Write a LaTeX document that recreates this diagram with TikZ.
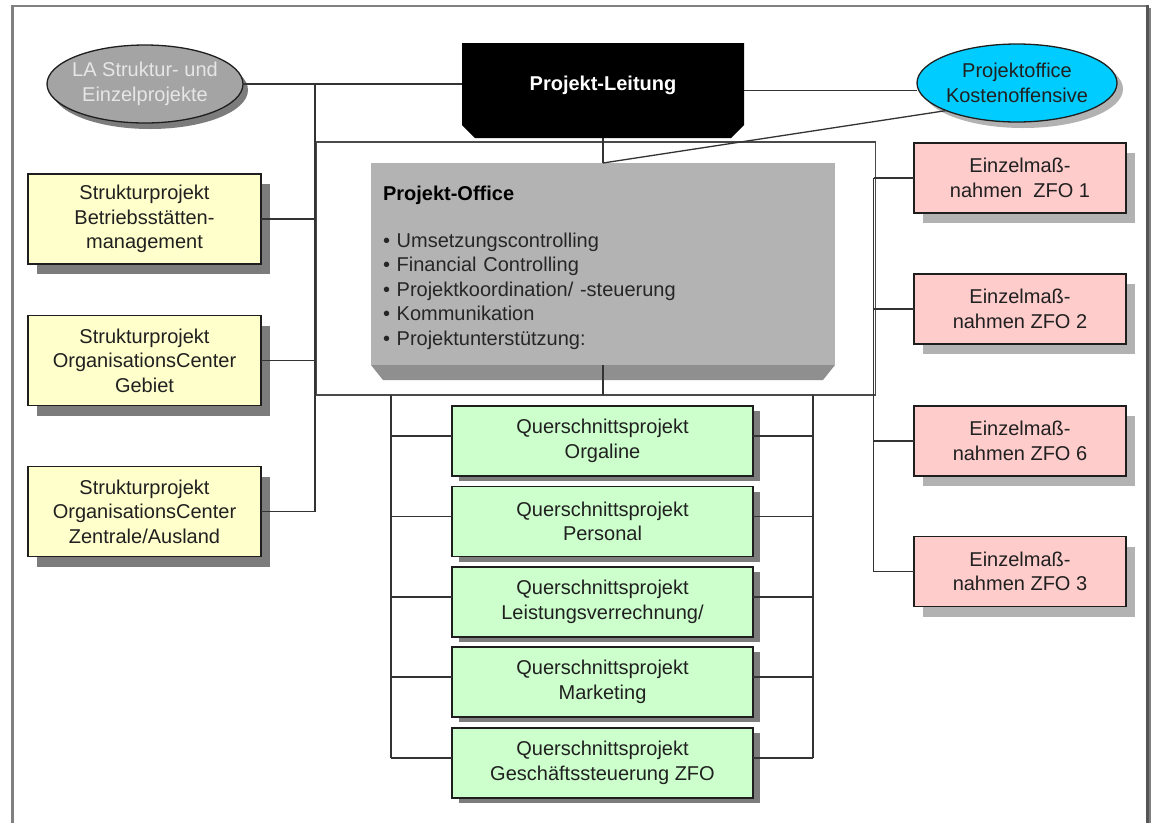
\documentclass[tikz,border=0pt]{standalone}
\usepackage{fontspec}
\setmainfont{Liberation Sans}
\usetikzlibrary{shapes.geometric,shadows,calc}

\definecolor{structfill}{HTML}{FFFFCC}
\definecolor{crossfill}{HTML}{CCFFCC}
\definecolor{singlefill}{HTML}{FFCCCC}
\definecolor{officecyan}{HTML}{00CCFF}
\definecolor{lagray}{HTML}{A4A4A4}
\definecolor{latext}{HTML}{E6E6E6}
\definecolor{pofill}{HTML}{B3B3B3}
\definecolor{pobevel}{HTML}{8F8F8F}
\definecolor{potext}{HTML}{262626}
\definecolor{boxline}{HTML}{1E1E1E}
\definecolor{boxtext}{HTML}{202020}
\definecolor{connline}{HTML}{333333}
\definecolor{rectgray}{HTML}{4A4A4A}
\definecolor{shdark}{HTML}{7C7C7C}
\definecolor{shlight}{HTML}{B2B2B2}
\definecolor{framegray}{HTML}{808080}
\definecolor{framedark}{HTML}{555555}

\begin{document}
\begin{tikzpicture}[x=1pt,y=-1pt,
  every node/.style={font=\fontsize{20}{24.5}\selectfont, inner sep=0pt, outer sep=0pt},
  box/.style={draw=boxline, line width=1.3pt, align=center, text=boxtext},
  structbox/.style={box, fill=structfill, minimum width=233pt, minimum height=90pt,
    drop shadow={shadow xshift=9pt, shadow yshift=-10pt, opacity=1, fill=shdark}},
  crossbox/.style={box, fill=crossfill, minimum width=301pt, minimum height=70pt,
    drop shadow={shadow xshift=7pt, shadow yshift=-5pt, opacity=1, fill=shdark}},
  singlebox/.style={box, fill=singlefill, minimum width=212pt, minimum height=70pt,
    drop shadow={shadow xshift=9pt, shadow yshift=-10pt, opacity=1, fill=shlight}},
  oval/.style={ellipse, draw=boxline, line width=1.3pt, align=center},
  conn/.style={draw=connline, line width=1.3pt},
  rectline/.style={draw=rectgray, line width=1.4pt}]

\useasboundingbox (0,0) rectangle (1157,823);
\fill[white] (0,0) rectangle (1157,823);

% outer frame
\draw[framegray, line width=2pt] (11,6) -- (1149,6);
\draw[framegray, line width=3pt] (12.5,5) -- (12.5,823);
\draw[framedark, line width=3pt] (1147.5,5) -- (1147.5,823);
\draw[framegray, line width=2pt] (1150,8) -- (1150,823);

% steering level
\node[oval, fill=lagray, text=latext, minimum width=196pt, minimum height=78pt,
  drop shadow={shadow xshift=5pt, shadow yshift=-6pt, opacity=1, fill=shdark}]
  (la) at (145,84) {\makebox[0pt]{LA Struktur- und}\\\makebox[0pt]{Einzelprojekte}};

\node[oval, fill=officecyan, text=boxtext, minimum width=200pt, minimum height=78pt,
  drop shadow={shadow xshift=6pt, shadow yshift=-6pt, opacity=1, fill=shlight}]
  (pk) at (1017,83) {\makebox[0pt]{Projektoffice}\\\makebox[0pt]{Kostenoffensive}};

\node[fill=white, minimum width=282pt, minimum height=95pt, text=white,
  font=\bfseries\fontsize{20}{24}\selectfont, text height=12pt, text depth=12pt,
  path picture={\fill[black] (path picture bounding box.north west)
    -- (path picture bounding box.north east)
    -- ([yshift=13pt]path picture bounding box.south east)
    -- ([xshift=-13pt]path picture bounding box.south east)
    -- ([xshift=13pt]path picture bounding box.south west)
    -- ([yshift=13pt]path picture bounding box.south west) -- cycle;}]
  (pl) at (603,90.5) {Projekt-Leitung};

% project office block with its lower face
\node[fill=pofill, text width=440pt, align=left, inner xsep=12pt, inner ysep=0pt,
  minimum height=202pt, text=potext] (po) at (603,264)
  {{\bfseries\color{black}\rule{0pt}{21.5pt}Projekt-Office}\\[22.5pt]
   • Umsetzungscontrolling\\
   • Financial Controlling\\
   • Projektkoordination/ -steuerung\\
   • Kommunikation\\
   • Projektunterstützung:};
\fill[pobevel] (po.south west) -- (po.south east)
  -- ([xshift=-12pt,yshift=-15pt]po.south east)
  -- ([xshift=12pt,yshift=-15pt]po.south west) -- cycle;

% structural projects
\node[structbox] (s1) at (144.5,219) {Strukturprojekt\\Betriebsstätten-\\management};
\node[structbox] (s2) at (144.5,360.5) {Strukturprojekt\\OrganisationsCenter\\Gebiet};
\node[structbox] (s3) at (144.5,511.5) {Strukturprojekt\\OrganisationsCenter\\Zentrale/Ausland};

% cross-sectional projects
\node[crossbox] (q1) at (602.5,441) {Querschnittsprojekt\\Orgaline};
\node[crossbox] (q2) at (602.5,521.5) {Querschnittsprojekt\\Personal};
\node[crossbox] (q3) at (602.5,602) {Querschnittsprojekt\\Leistungsverrechnung/};
\node[crossbox] (q4) at (602.5,682) {Querschnittsprojekt\\Marketing};
\node[crossbox] (q5) at (602.5,763) {Querschnittsprojekt\\Geschäftssteuerung ZFO};

% single measures
\node[singlebox] (p1) at (1020,178) {Einzelmaß-\\nahmen\ \ ZFO 1};
\node[singlebox] (p2) at (1020,309) {Einzelmaß-\\nahmen ZFO 2};
\node[singlebox] (p3) at (1020,441) {Einzelmaß-\\nahmen ZFO 6};
\node[singlebox] (p4) at (1020,571.5) {Einzelmaß-\\nahmen ZFO 3};

% trunk positions
\coordinate (tl) at (315,84);
\coordinate (rtl) at (316.5,142);
\coordinate (rbr) at (875.5,395);
\coordinate (tr) at (873.5,178);
\coordinate (ql) at (391,395);
\coordinate (qr) at (813,395);

% frame round the project office
\draw[rectline] (rtl) rectangle (rbr);

% connectors
\draw[conn] (la.east) -- (la.east -| pl.west);
\draw[conn] (tl) -- (tl |- s3.east);
\foreach \n in {s1,s2,s3} \draw[conn] (\n.east) -- (\n.east -| tl);

\draw[conn] (pl.east) -- (pl.east -| pk.west);
\draw[conn] (pl.south) -- (po.north);
\draw[conn] (po.north) -- (pk.south west);
\draw[conn] (po.south) -- (po.south |- rbr);

\foreach \i in {1,...,5} {
  \path ([yshift=5pt]q\i.west) coordinate (qa\i) ([yshift=5pt]q\i.east) coordinate (qb\i);
  \draw[conn] (qa\i) -- (qa\i -| ql);
  \draw[conn] (qb\i) -- (qb\i -| qr);
}
\draw[conn] (ql) -- (ql |- qa5);
\draw[conn] (qr) -- (qr |- qb5);

\draw[conn] (tr) -- (tr |- p4.west);
\foreach \n in {p1,p2,p3,p4} \draw[conn] (\n.west) -- (\n.west -| tr);

\end{tikzpicture}
\end{document}
